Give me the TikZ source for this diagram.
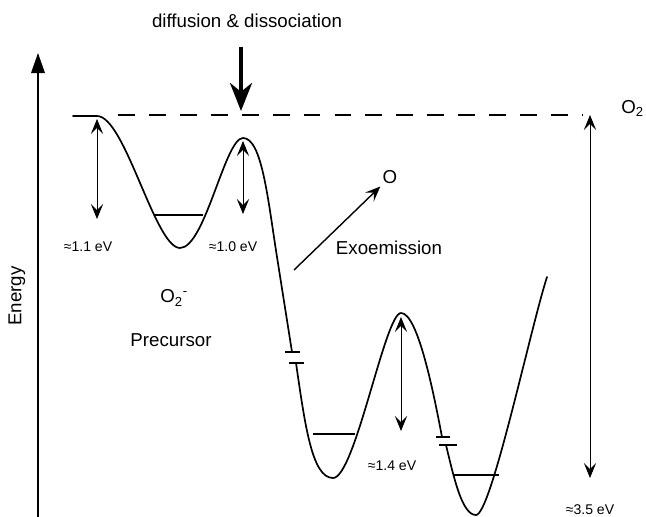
\documentclass[tikz,border=0pt]{standalone}
\usepackage{fontspec}
\setmainfont{Liberation Sans}
\usetikzlibrary{arrows.meta}
\tikzset{
  pes/.style={line width=1.2pt, line cap=round},
  level/.style={line width=1.2pt},
  brk/.style={line width=1.4pt},
  barrier/.style={{Stealth[length=3.8mm,width=3.1mm,inset=1.6mm]}-{Stealth[length=3.8mm,width=3.1mm,inset=1.6mm]}, line width=0.6pt},
  emit/.style={-{Stealth[length=3.8mm,width=3.1mm,inset=1.6mm]}, line width=1pt},
  bigarrow/.style={-{Stealth[length=7mm,width=5.5mm,inset=2.2mm]}, line width=2.8pt},
  lbl/.style={font=\fontsize{13.3}{15}\selectfont, inner sep=0pt},
  ev/.style={font=\fontsize{10}{12}\selectfont, inner sep=0pt},
}
\begin{document}
\begin{tikzpicture}[x=0.025cm, y=-0.025cm]
  \useasboundingbox (0,0) rectangle (646,517);
  % energy axis
  \coordinate (ebot) at (38,517);
  \coordinate (etop) at (38,53);
  \draw[line width=1pt, -{Triangle[length=5mm,width=3.4mm]}] (ebot) -- (etop);
  \node[lbl, rotate=90] (energy) at (17,296) {Energy};
  % potential energy curve
  \draw[pes] (73,116) -- (97,116)
    .. controls (125,116) and (155,248) .. (180,248)
    .. controls (205,248) and (225,138) .. (243,138)
    .. controls (262,138) and (268,200) .. (277,257) -- (292,352);
  \draw[pes] (296,363)
    .. controls (305,425) and (312,478) .. (333,478)
    .. controls (355,478) and (385,313) .. (401,313)
    .. controls (418,313) and (434,395) .. (442,437);
  \draw[pes] (446,445)
    .. controls (454,478) and (462,515) .. (476,515)
    .. controls (491,515) and (530,330) .. (547,277);
  % breaks in the curve
  \draw[brk] (285,352) -- (300,352);
  \draw[brk] (289,363) -- (304,363);
  \draw[brk] (436,437) -- (450,437);
  \draw[brk] (439,445) -- (457,445);
  % vibrational levels
  \draw[level] (155,215) -- (203,215);
  \draw[level] (313,434) -- (355,434);
  \draw[level] (454,475) -- (499,475);
  % gas phase level
  \draw[line width=1.2pt, dash pattern=on 12pt off 10pt] (118,115) -- (583,115);
  \node[lbl, anchor=base west] (otwo) at (621,113.5) {O\textsubscript{2}};
  % incoming molecule
  \node[lbl, anchor=base] (diff) at (247,28) {diffusion \& dissociation};
  \coordinate (drop) at (241,47);
  \coordinate (hit) at (241,111);
  \draw[bigarrow] (drop) -- (hit);
  % barriers
  \coordinate (b1t) at (97,119);
  \coordinate (b1b) at (97,219);
  \draw[barrier] (b1t) -- (b1b);
  \node[ev, anchor=base] (b1lab) at (88,252) {≈1.1 eV};
  \coordinate (b2t) at (243,141);
  \coordinate (b2b) at (243,214);
  \draw[barrier] (b2t) -- (b2b);
  \node[ev, anchor=base] (b2lab) at (233,252) {≈1.0 eV};
  \coordinate (b3t) at (401,317);
  \coordinate (b3b) at (401,431);
  \draw[barrier] (b3t) -- (b3b);
  \node[ev, anchor=base] (b3lab) at (392,471) {≈1.4 eV};
  \coordinate (b4t) at (590,115);
  \coordinate (b4b) at (590,478);
  \draw[barrier] (b4t) -- (b4b);
  \node[ev, anchor=base] (b4lab) at (590,515) {≈3.5 eV};
  % exoemission
  \node[lbl, inner sep=1.5pt] (oatom) at (390,177.5) {O};
  \coordinate (exo) at (294,270);
  \draw[emit] (exo) -- (oatom.south west);
  \node[lbl, anchor=base] (exolab) at (389,255) {Exoemission};
  % precursor
  \node[lbl, anchor=base west] (ominus) at (160,303) {O\textsubscript{2}\textsuperscript{-}};
  \node[lbl, anchor=base] (prec) at (171,347) {Precursor};
\end{tikzpicture}
\end{document}
